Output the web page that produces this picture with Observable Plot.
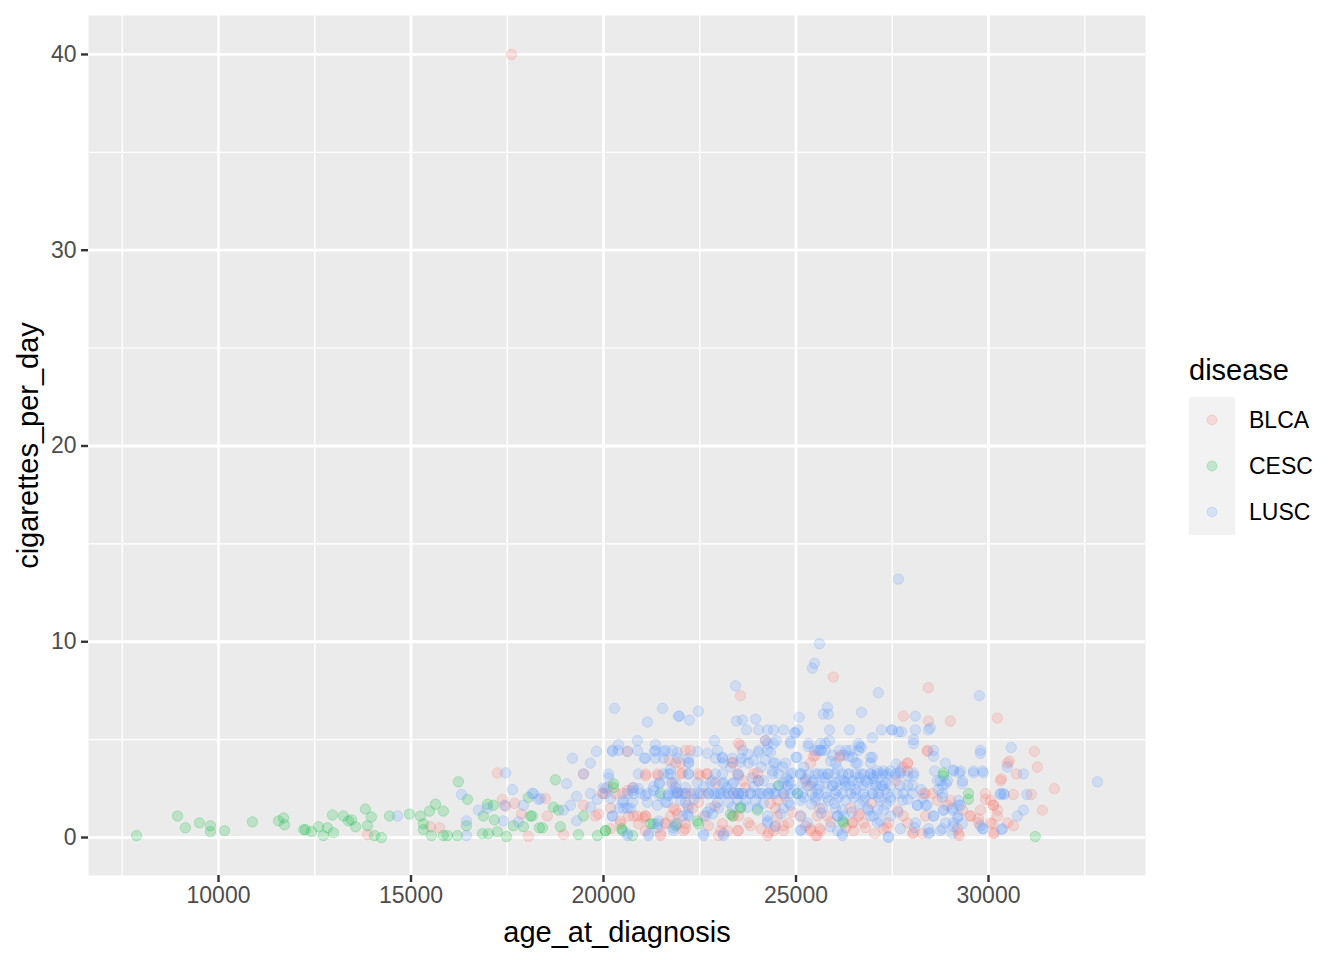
<!DOCTYPE html>
<html>
<head>
<meta charset="utf-8">
<script src="https://cdn.jsdelivr.net/npm/d3@7"></script>
<script src="https://cdn.jsdelivr.net/npm/@observablehq/plot@0.6"></script>
<style>
  html, body { margin: 0; padding: 0; background: #fff; }
  #wrap { position: relative; width: 1344px; height: 960px; font-family: "Liberation Sans", Arial, Helvetica, sans-serif; }
  #chart { position: absolute; left: 0; top: 0; }
  #legend { position: absolute; left: 1189px; top: 352px; }
  #legend .title { font-size: 29px; color: #000; line-height: 36px; height: 45px; }
  #legend .row { display: flex; align-items: center; height: 46px; }
  #legend .key { width: 46px; height: 46px; background: #F2F2F2; display: flex; align-items: center; justify-content: center; }
  #legend .lab { font-size: 23px; color: #000; margin-left: 14px; }
</style>
</head>
<body>
<div id="wrap">
  <div id="chart"></div>
  <div id="legend"></div>
</div>
<script>
const diseases = ["BLCA", "CESC", "LUSC"];
const diseaseColors = ["#F8766D", "#00BA38", "#619CFF"];
const xTicks = [10000, 15000, 20000, 25000, 30000];
const xMinor = [7500, 12500, 17500, 22500, 27500, 32500];
const yTicks = [0, 10, 20, 30, 40];
const yMinor = [5, 15, 25, 35];

// [age_at_diagnosis, cigarettes_per_day]
const blcaPoints = [
[13870,0.15],[17245,3.3],[17375,1.95],[17455,1.6],[17690,1.75],[17870,1.2],[18050,0.05],[18490,2.0],[18540,1.1],[18960,0.15],
[19480,3.25],[19480,1.65],[19790,1.1],[19870,1.2],[20000,2.25],[20620,4.4],[20620,2.4],[20650,1.1],[20880,1.1],[21090,1.1],
[20440,0.85],[20180,0.45],[21040,1.0],[21610,0.75],[21480,0.2],[21920,1.2],[21710,3.95],[21090,3.15],[21425,3.15],[21920,2.3],
[15505,0.55],[15740,0.5],[17610,40],
[23560,7.25],[23560,4.7],[24205,4.95],[23350,3.85],[22255,4.45],[21870,3.8],[22050,3.3],[22700,3.25],[22515,3.15],[24000,3.3],
[24025,2.9],[23690,2.55],[22180,1.65],[21870,1.4],[22130,0.45],[22725,0.6],[23040,0.35],[23480,0.35],[23815,0.6],[24285,0.25],
[24465,0.6],[24675,0.6],[24335,1.75],[22260,2.25],[22597,2.25],[23377,2.25],
[25970,8.2],[25450,4.15],[26130,4.1],[25555,0.1],[25375,0.45],[25610,0.45],[26805,0.5],[27375,0.5],[26465,0.75],[25815,1.1],
[25115,1.1],[25610,1.5],[26650,1.2],
[28440,7.65],[27790,6.2],[29010,5.95],[28440,5.95],[28410,4.4],[27900,3.8],[27770,3.6],[29920,1.95],[30130,1.65],[28360,2.25],
[29240,0.1],[29530,1.1],[29740,0.95],[28050,0.25],
[30230,6.1],[31190,4.4],[30540,3.9],[31270,3.6],[30725,3.25],[30335,3.0],[31710,2.5],[30645,2.2],[31110,2.2],[30130,1.65],
[30230,1.1],[31400,1.4],[30100,0.7],[30645,0.6],[30150,0.25],
[22130,4.45],[22000,3.8],[23351,3.8],[21091,3.25],[21403,3.25],[22000,3.25],[22468,3.25],[22675,3.25],[23481,3.25],[21792,2.8],
[22909,2.8],[20104,2.55],[20753,2.55],[19974,2.25],[20312,2.25],[20494,2.25],[22130,2.25],[22468,1.8],[20182,1.5],[21818,1.5],
[22312,1.5],[20779,1.1],[21091,1.1],[21740,1.1],[22597,1.1],[23377,1.1],[20442,0.7],[20909,0.7],[21610,0.7],[21922,0.7],
[22130,0.7],[23091,0.7],[21091,0.35],[22078,0.35],[23221,0.35],[21481,0.1],[22987,0.1],
[23506,4.8],[25506,4.2],[26156,4.2],[25377,3.8],[23896,3.25],[23636,2.9],[25247,2.9],[25377,2.65],[24519,1.9],[24468,1.5],
[26416,1.5],[23506,1.1],[24519,1.1],[25558,1.1],[26623,1.1],[23766,0.75],[24805,0.75],[26468,0.75],[26753,0.75],[23506,0.35],
[24416,0.35],[24675,0.35],[25377,0.35],[25636,0.35],[26494,0.35],[24260,0.1],[25506,0.1],
[28416,4.45],[27896,3.8],[30494,3.8],[27896,3.4],[30312,2.9],[28312,2.25],[28546,2.25],[29922,2.25],[28675,1.9],[29013,1.9],
[30052,1.9],[28935,1.65],[27636,1.4],[29325,1.4],[29792,1.4],[30234,1.4],[27792,1.1],[28364,1.1],[29533,1.1],[27403,0.75],
[27896,0.75],[29740,0.75],[30052,0.75],[30494,0.75],[27273,0.45],[29195,0.45],[28026,0.2],[28286,0.2],[29221,0.2],[30130,0.2],
[24900,1.3],[25250,0.6],[26300,0.5],[26950,1.75],[27600,2.9],[24100,0.45],[22900,1.6],[25900,0.8],[27050,0.2],[24700,2.1]
];

const cescPoints = [
[7870,0.1],[8935,1.1],[9140,0.5],[9505,0.75],[9790,0.6],[9790,0.3],[10155,0.35],[10880,0.8],[11560,0.85],[11690,1.0],
[11715,0.65],[12210,0.4],[12260,0.4],[12415,0.3],[12600,0.55],[12725,0.1],[12830,0.5],[12985,0.25],[12960,1.15],[13245,1.1],
[13375,0.85],[13455,0.9],[13560,0.55],[13815,1.45],[13870,0.6],[13970,1.05],[14050,0.1],[14230,0.0],[14440,1.1],[14960,1.2],
[15245,1.1],[15320,0.7],[15320,0.4],[15480,1.35],[15635,1.7],[15840,1.35],[15530,0.1],[15840,0.1],[15945,0.1],[16205,0.1],
[16440,0.6],[16230,2.85],[16465,1.95],[16985,1.7],[17140,1.65],[16880,1.1],[17165,0.9],[16855,0.2],[17010,0.2],[17245,0.3],
[17480,0.05],[17660,0.6],[17920,0.55],[18100,1.1],[18050,2.05],[18335,0.5],
[18750,2.95],[20260,2.75],[18150,1.1],[18415,0.5],[18700,1.55],[18830,1.4],[19480,1.1],[20470,0.45],[20050,0.35],[19840,0.1],
[19350,0.15],[18880,0.55],[21220,0.7],
[22440,0.85],[21870,0.6],[23300,1.2],[23560,1.55],[24000,1.4],[26205,0.85],[28830,3.3],[29480,1.95],[31215,0.05],
[20260,2.55],[21299,0.7],[22468,0.7],[20052,0.35],[20494,0.35],[20753,0.1],[21481,2.25],[23351,1.1],
[24545,2.65],[25039,2.25],[23558,1.5],[26234,0.75],[28831,3.15],[29481,2.25]
];

const luscPoints = [
[14650,1.1],[16440,0.85],[16440,0.1],[16310,2.2],[16750,1.4],[16985,1.5],[17455,3.3],[17635,2.45],[17430,1.65],[17400,0.85],
[17790,0.8],[17920,1.65],[18150,2.25],[18310,1.95],
[20285,6.6],[21140,5.9],[21530,6.6],[21945,6.2],[20390,4.75],[20880,4.95],[21350,4.75],[19815,4.4],[20230,4.4],[20620,4.4],
[19195,4.05],[19660,3.8],[19480,3.25],[21060,4.05],[21320,4.4],[21555,4.4],[21740,3.5],[20905,3.25],[20130,3.05],[19040,2.75],
[21450,2.75],[21760,2.8],[18180,2.25],[18360,2.0],[18960,1.4],[19140,1.65],[19300,2.1],[19300,0.85],[19660,2.25],[19660,1.55],
[19840,1.95],[20050,2.5],[20180,2.0],[20230,1.1],[20410,1.5],[20520,1.9],[20750,2.4],[20905,2.5],[21090,2.15],[21300,2.4],
[21450,2.15],[21685,2.15],[21920,2.3],[21400,1.65],[21660,1.8],[20620,1.5],[20620,0.2],[21170,0.2],[21430,0.85],[21400,0.5],
[21815,0.5],
[23430,7.75],[21970,6.2],[22230,6.0],[22465,6.45],[23455,5.95],[23610,6.0],[23950,6.05],[23715,5.5],[24025,5.5],[24260,5.5],
[24415,5.5],[24675,5.5],[24985,5.35],[22880,4.95],[24205,4.95],[24490,4.95],[24855,4.9],[22960,4.45],[23090,4.1],[23585,4.05],
[24025,4.35],[24335,4.35],[23895,3.95],[24205,3.95],[24415,3.8],[25000,4.1],[23115,3.8],[23300,3.6],[23560,3.85],[22205,3.85],
[21920,4.35],[22440,4.4],[22205,3.25],[21740,3.25],[24390,3.4],[24650,3.6],[24910,3.3],[24855,2.75],[24675,2.8],[23505,3.15],
[23870,3.05],[22830,2.9],[23090,2.75],[23350,2.75],[24025,2.9],
[21792,2.25],[21948,2.25],[22130,2.25],[22442,2.25],[22727,2.25],[22857,2.25],[22987,2.25],[23117,2.25],[23247,2.25],[23506,2.25],
[23636,2.25],[23818,2.25],[24000,2.25],[24130,2.25],[24286,2.25],[24468,2.25],[24675,2.25],[24857,2.25],[25039,2.25],
[22000,1.9],[22182,1.2],[22701,1.3],[22831,1.2],[22597,0.2],[23115,0.2],[24260,0.85],[24600,1.2],[23480,1.9],[23740,1.55],
[24855,1.65],[23350,1.55],
[25610,9.9],[25480,8.9],[25425,8.65],[27140,7.4],[25815,6.65],[25840,6.3],[25710,6.3],[26700,6.4],[25080,6.15],[25050,5.5],
[24960,5.35],[25870,5.5],[26390,5.5],[27220,5.5],[27480,5.5],[27660,5.4],[26985,5.1],[25870,4.95],[25320,4.65],[25480,4.45],
[25580,4.45],[25660,4.45],[25760,4.45],[26130,4.45],[26650,4.65],[26700,4.6],[25025,4.1],[26365,4.15],[26470,4.1],[26935,4.1],
[26600,3.8],[26080,3.5],[26205,3.25],
[25117,3.25],[25325,3.25],[25506,3.25],[25688,3.25],[25844,3.25],[26000,3.25],[26364,3.25],[26546,3.25],[26753,3.25],[26935,3.25],
[27117,3.25],[27247,3.25],[27403,3.25],[27584,3.25],
[25169,2.8],[25429,2.8],[25766,2.8],[26026,2.8],[26286,2.8],[26597,2.8],[26857,2.8],[27065,2.8],[27325,2.8],
[25300,2.65],[25600,2.65],[25950,2.65],[26400,2.65],[26750,2.65],[27200,2.65],
[25200,2.05],[25500,2.05],[25800,2.05],[26100,2.05],[26500,2.05],[26800,2.05],[27150,2.05],[27450,2.05],
[25130,0.4],[26205,0.2],[27400,0.05],[26205,1.4],[26078,1.1],[26880,1.4],[27190,0.85],
[27660,13.2],[29760,7.25],[28100,6.2],[27500,5.5],[27740,5.4],[28100,5.5],[28440,5.5],[28490,5.6],[28050,5.0],[28570,4.15],
[29790,4.3],[27710,3.3],[28050,3.3],[29090,3.45],[29240,3.3],[29610,3.3],[29865,3.3],[28750,2.9],[28900,2.75],[29320,2.75],
[28700,2.45],[28800,2.05],[28150,1.65],[28410,1.65],[28570,1.1],[28830,1.4],[29060,1.5],[29270,1.65],[29195,1.0],[29320,0.7],
[29090,0.55],[28750,0.35],[28470,0.25],[28080,0.5],[29790,0.6],[29865,0.45],
[30590,4.6],[30490,3.6],[30905,3.25],[32830,2.85],[30310,2.2],[30410,2.2],[31000,2.2],[30905,1.4],[30750,1.1],[30335,0.4],
[20234,4.45],[20390,4.45],[20883,4.45],[21351,4.45],[21610,4.45],[21792,4.45],
[21091,4.05],[21351,4.05],[21558,4.05],[21922,4.05],[22208,4.05],[22909,4.05],[23091,4.05],[23351,4.05],[22208,3.8],
[20130,3.25],[21558,3.25],[21688,3.25],[22208,3.25],[22909,3.25],[23091,3.25],
[21455,2.8],[21870,2.8],[22442,2.8],[22779,2.8],[23117,2.8],[23377,2.8],
[20000,2.55],[20779,2.55],[21870,2.55],[22130,2.55],
[20052,2.25],[20623,2.25],[20779,2.25],[20961,2.25],[21143,2.25],[21688,2.25],[21870,2.25],[22052,2.25],[22338,2.25],[22519,2.25],
[22727,2.25],[22909,2.25],[23039,2.25],[23221,2.25],[23377,2.25],[23506,2.25],
[20494,1.8],[20753,1.8],[21143,1.8],[21610,1.8],[22130,1.8],[22961,1.8],[23247,1.8],
[20520,1.5],[20701,1.5],[22208,1.5],[22779,1.5],[22987,1.5],
[20234,1.1],[22052,1.1],[22208,1.1],[22649,1.1],[21403,0.7],[21870,0.7],[21818,0.35],
[20623,0.1],[21169,0.1],[22597,0.1],[23117,0.1],
[24260,4.8],[24416,4.8],[24857,4.8],[25325,4.8],[25636,4.8],[25766,4.8],[26623,4.8],
[23610,4.45],[24026,4.45],[24260,4.45],[25636,4.45],[26416,4.45],[26623,4.45],[26234,4.2],[25948,4.2],
[23766,3.8],[24468,3.8],[24727,3.8],[26026,3.8],[26546,3.8],[26935,3.8],
[23506,3.25],[24390,3.25],[24857,3.25],[25117,3.25],[25584,3.25],[25818,3.25],[26364,3.25],[26675,3.25],[26935,3.25],
[24156,2.9],[24805,2.9],[25455,2.9],[26234,2.9],[26468,2.9],[26805,2.9],
[24545,2.65],[24779,2.65],[25948,2.65],[26286,2.65],
[23481,2.25],[23610,2.25],[23818,2.25],[24078,2.25],[24286,2.25],[24416,2.25],[24675,2.25],[25169,2.25],[25429,2.25],[25584,2.25],
[25766,2.25],[26026,2.25],[26208,2.25],[26416,2.25],[26546,2.25],[26753,2.25],[26987,2.25],
[23688,1.9],[23948,1.9],[25117,1.9],[25506,1.9],[25844,1.9],[26286,1.9],[26753,1.9],
[24000,1.5],[24675,1.5],[25688,1.5],[26026,1.5],[26857,1.5],
[24260,1.1],[25117,1.1],[26078,1.1],[26234,1.1],[26935,1.1],[24260,0.75],[25299,0.75],[25117,0.35],[26078,0.35],[26208,0.1],
[28052,4.8],[28571,4.45],[29792,4.45],[26987,4.1],[28883,3.8],
[27117,3.4],[27273,3.4],[27455,3.4],[27714,3.4],[29091,3.4],[29273,3.4],[29610,3.4],[29844,3.4],
[27013,3.15],[27325,3.15],[27584,3.15],[27896,3.15],[28052,3.15],
[28675,2.9],[28935,2.9],[29325,2.9],
[27065,2.65],[27247,2.65],[27455,2.65],[27714,2.65],[27896,2.65],[28026,2.65],[28805,2.65],
[26987,2.25],[27143,2.25],[27377,2.25],[27636,2.25],[27792,2.25],[28026,2.25],[28805,2.25],[30312,2.25],[30390,2.25],
[27195,1.9],[27455,1.9],[27766,1.9],[29221,1.9],
[28156,1.65],[28364,1.65],[29221,1.65],
[27117,1.4],[27273,1.4],[28831,1.4],[29065,1.4],
[27013,1.1],[27455,1.1],[28571,1.1],[29221,1.1],
[27117,0.75],[28104,0.75],[28883,0.75],[29091,0.75],
[27714,0.45],[28442,0.45],[28805,0.45],[29844,0.45],[30364,0.45],
[28442,0.2],[29065,0.2],[27403,0.0],
[24550,3.25],[24750,3.05],[25250,3.0],[25750,3.05],[26150,2.95],[26650,3.05],[27000,3.0],[24350,2.5],[24950,2.45],[25550,2.45],
[26050,2.4],[26550,2.45],[27300,2.45],[24150,1.75],[24800,1.8],[25400,1.7],[26000,1.75],[26650,1.7],[27350,1.7],[25650,1.25],
[26450,1.3],[27650,1.3],[24450,0.55],[25900,0.55],[23900,2.6],[23200,2.55],[22600,2.6],[21300,2.6],[22350,1.95],[28250,2.45],
[28600,3.4],[28300,2.0],[27900,1.95],[26300,4.45],[25200,3.6],[24100,3.6],[22700,4.3],[23750,4.25],[25900,3.9],[27600,3.75]
];

const seriesPoints = [blcaPoints, cescPoints, luscPoints];
const rows = [];
seriesPoints.forEach((pts, i) => pts.forEach(([age, cig]) => rows.push({age, cig, disease: diseases[i]})));

const fontFamily = '"Liberation Sans", Arial, Helvetica, sans-serif';

const chart = Plot.plot({
  width: 1160,
  height: 960,
  marginLeft: 88,
  marginRight: 15,
  marginTop: 15,
  marginBottom: 85,
  style: { fontFamily, fontSize: "23px", background: "white", overflow: "visible" },
  x: { domain: [6623, 34078] },
  y: { domain: [-1.94, 41.99] },
  color: { domain: diseases, range: diseaseColors },
  marks: [
    Plot.frame({ fill: "#EBEBEB", stroke: null }),
    Plot.ruleX(xMinor, { stroke: "white", strokeWidth: 1.4 }),
    Plot.ruleY(yMinor, { stroke: "white", strokeWidth: 1.4 }),
    Plot.ruleX(xTicks, { stroke: "white", strokeWidth: 2.8 }),
    Plot.ruleY(yTicks, { stroke: "white", strokeWidth: 2.8 }),
    Plot.dot(rows, {
      x: "age", y: "cig", r: 5.2,
      fill: "disease", stroke: "disease",
      fillOpacity: 0.2, strokeOpacity: 0.22, strokeWidth: 1
    }),
    Plot.axisX({ ticks: xTicks, tickFormat: d => String(d), tickSize: 7, tickPadding: 4,
      stroke: "#333333", strokeWidth: 2.4, fill: "#4D4D4D", label: null }),
    Plot.axisY({ ticks: yTicks, tickFormat: d => String(d), tickSize: 7, tickPadding: 5,
      stroke: "#333333", strokeWidth: 2.4, fill: "#4D4D4D", label: null }),
    Plot.text(["age_at_diagnosis"], { frameAnchor: "bottom", dy: 66, fontSize: 29, fill: "black" }),
    Plot.text(["cigarettes_per_day"], { frameAnchor: "left", dx: -60, rotate: -90, textAnchor: "middle", fontSize: 29, fill: "black" })
  ]
});
document.getElementById("chart").appendChild(chart);

// Legend
const legend = document.getElementById("legend");
const t = document.createElement("div");
t.className = "title";
t.textContent = "disease";
legend.appendChild(t);
diseases.forEach((d, i) => {
  const row = document.createElement("div");
  row.className = "row";
  row.innerHTML = `<div class="key"><svg width="14" height="14"><circle cx="7" cy="7" r="5" fill="${diseaseColors[i]}" fill-opacity="0.2" stroke="${diseaseColors[i]}" stroke-opacity="0.22" stroke-width="1"/></svg></div><div class="lab">${d}</div>`;
  legend.appendChild(row);
});
</script>
</body>
</html>
